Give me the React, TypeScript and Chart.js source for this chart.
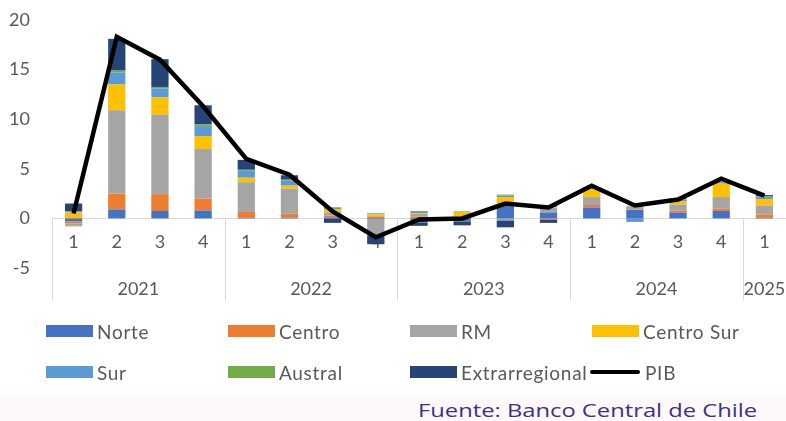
import React, { useEffect, useRef } from "react";
import { Chart, registerables } from "chart.js";

Chart.register(...registerables);

const quarters = ["1", "2", "3", "4", "1", "2", "3", "4", "1", "2", "3", "4", "1", "2", "3", "4", "1"];
const years = ["2021", "2022", "2023", "2024", "2025"];
const yearSizes = [4, 4, 4, 4, 1];

const norte = [-0.3, 0.9, 0.75, 0.8, 0.05, 0.1, 0.1, -0.1, -0.4, -0.3, 1.4, 0.6, 1.1, 0.85, 0.6, 0.75, 0.05];
const centro = [-0.2, 1.6, 1.7, 1.2, 0.6, 0.4, 0.2, 0.2, 0.2, 0.05, 0.05, -0.1, 0.25, 0.05, 0.2, 0.25, 0.35];
const rm = [-0.2, 8.4, 8.0, 5.0, 3.0, 2.5, 0.3, -1.6, 0.25, 0.15, -0.2, 0.5, 0.8, 0.3, 0.6, 1.15, 0.9];
const centroSur = [0.6, 2.6, 1.75, 1.3, 0.45, 0.3, 0.35, 0.2, 0.05, 0.45, 0.7, 0.05, 0.8, 0.05, 0.35, 1.35, 0.65];
const sur = [0.1, 1.2, 0.9, 1.0, 0.7, 0.5, 0.15, 0.1, 0.15, 0.05, 0.15, 0.1, 0.1, -0.3, 0.15, 0.1, 0.2];
const austral = [-0.1, 0.2, 0.15, 0.2, 0.1, 0.1, 0.05, 0.05, 0.1, 0.02, 0.1, 0.1, 0.05, 0.02, 0.05, 0.05, 0.1];
const extrarregional = [0.8, 3.2, 2.8, 1.9, 1.0, 0.45, -0.45, -0.9, -0.35, -0.4, -0.7, -0.35, 0.05, -0.05, 0.05, 0.05, 0.1];
const pib = [0.5, 18.3, 16.0, 11.3, 6.0, 4.4, 0.7, -1.9, -0.1, 0.0, 1.5, 1.1, 3.3, 1.3, 1.9, 4.0, 2.3];

const yTicks = [-5, 0, 5, 10, 15, 20];

const barSeries = [
  { label: "Norte", data: norte, color: "#4472c4" },
  { label: "Centro", data: centro, color: "#ed7d31" },
  { label: "RM", data: rm, color: "#a5a5a5" },
  { label: "Centro Sur", data: centroSur, color: "#ffc000" },
  { label: "Sur", data: sur, color: "#5b9bd5" },
  { label: "Austral", data: austral, color: "#70ad47" },
  { label: "Extrarregional", data: extrarregional, color: "#264478" },
];

const legendOrder = [
  { label: "Norte", color: "#4472c4", line: false },
  { label: "Centro", color: "#ed7d31", line: false },
  { label: "RM", color: "#a5a5a5", line: false },
  { label: "Centro Sur", color: "#ffc000", line: false },
  { label: "Sur", color: "#5b9bd5", line: false },
  { label: "Austral", color: "#70ad47", line: false },
  { label: "Extrarregional", color: "#264478", line: false },
  { label: "PIB", color: "#000000", line: true },
];

const AXIS_FONT = "Lato, 'Liberation Sans Narrow', sans-serif";
const TEXT_COLOR = "#595959";
const SEP_COLOR = "#d9d9d9";

const axesPlugin = {
  id: "customAxes",
  beforeDatasetsDraw(chart: any) {
    const { ctx, scales, chartArea } = chart;
    const x = scales.x;
    const y = scales.y;
    const zeroPx = y.getPixelForValue(0);
    const zeroY = Math.round(zeroPx) + 0.5;
    ctx.save();
    ctx.strokeStyle = SEP_COLOR;
    ctx.lineWidth = 1;
    ctx.beginPath();
    ctx.moveTo(chartArea.left, zeroY);
    ctx.lineTo(chartArea.right, zeroY);
    ctx.stroke();
    ctx.fillStyle = TEXT_COLOR;
    ctx.font = `18px ${AXIS_FONT}`;
    ctx.textAlign = "right";
    ctx.textBaseline = "middle";
    yTicks.forEach((v) => {
      ctx.fillText(String(v), 30, y.getPixelForValue(v));
    });

    const step = x.getPixelForValue(1) - x.getPixelForValue(0);
    ctx.textAlign = "center";
    quarters.forEach((q, i) => {
      ctx.fillText(q, x.getPixelForValue(i), zeroPx + 24);
    });
    let start = 0;
    const drawSep = (px: number) => {
      ctx.beginPath();
      ctx.moveTo(Math.round(px) + 0.5, zeroPx);
      ctx.lineTo(Math.round(px) + 0.5, zeroPx + 82);
      ctx.stroke();
    };
    drawSep(x.getPixelForValue(0) - step / 2);
    years.forEach((yr, gi) => {
      const n = yearSizes[gi];
      const left = x.getPixelForValue(start) - step / 2;
      const right = x.getPixelForValue(start + n - 1) + step / 2;
      ctx.fillText(yr, (left + right) / 2, zeroPx + 71);
      drawSep(right);
      start += n;
    });
    ctx.restore();
  },
};

export default function App() {
  const ref = useRef<HTMLCanvasElement | null>(null);

  useEffect(() => {
    document.body.style.margin = "0";
    const canvas = ref.current;
    if (!canvas) return;
    const datasets: any[] = barSeries.map((s) => ({
      type: "bar",
      label: s.label,
      data: s.data,
      backgroundColor: s.color,
      borderWidth: 0,
      stack: "regions",
      order: 2,
      categoryPercentage: 1,
      barPercentage: 0.4,
    }));
    datasets.push({
      type: "line",
      label: "PIB",
      data: pib,
      borderColor: "#000000",
      borderWidth: 4.5,
      pointRadius: 0,
      tension: 0,
      fill: false,
      stack: "pib",
      order: 0,
      borderJoinStyle: "miter",
    });
    const chart = new Chart(canvas, {
      type: "bar",
      data: { labels: quarters, datasets },
      options: {
        animation: false,
        responsive: false,
        maintainAspectRatio: false,
        layout: { padding: { left: 52, right: 0, top: 20, bottom: 153 } },
        plugins: { legend: { display: false }, tooltip: { enabled: false } },
        scales: {
          x: { display: false, stacked: true, offset: true },
          y: { display: false, stacked: true, min: -5, max: 20 },
        },
      },
      plugins: [axesPlugin],
    });
    return () => chart.destroy();
  }, []);

  return (
    <div style={{ position: "relative", width: 786, height: 421, background: "#ffffff", overflow: "hidden" }}>
      <canvas ref={ref} width={786} height={421} style={{ position: "absolute", left: 0, top: 0 }} />
      {legendOrder.map((item, i) => {
        const col = i % 4;
        const row = Math.floor(i / 4);
        const left = 46 + col * 182;
        const top = 331 + row * 41;
        return (
          <div
            key={item.label}
            style={{
              position: "absolute",
              left: item.line ? 590 : left,
              top: top - 12,
              height: 24,
              display: "flex",
              alignItems: "center",
              fontFamily: AXIS_FONT,
              fontSize: 19,
              letterSpacing: 0.7,
              color: TEXT_COLOR,
              whiteSpace: "nowrap",
            }}
          >
            {item.line ? (
              <div style={{ width: 50, height: 4, background: "#000", borderRadius: 2, marginRight: 5 }} />
            ) : (
              <div style={{ width: 47, height: 12, background: item.color, marginRight: 4 }} />
            )}
            <span>{item.label}</span>
          </div>
        );
      })}
      <div
        style={{
          position: "absolute",
          left: 0,
          top: 396,
          width: 786,
          height: 25,
          background: "#fdf9fb",
        }}
      />
      <div
        style={{
          position: "absolute",
          left: 418,
          top: 397,
          fontFamily: "'Open Sans', sans-serif",
          fontSize: 19,
          color: "#3d3183",
          whiteSpace: "nowrap",
          transform: "scaleX(1.25)",
          transformOrigin: "left center",
        }}
      >
        Fuente: Banco Central de Chile
      </div>
    </div>
  );
}
